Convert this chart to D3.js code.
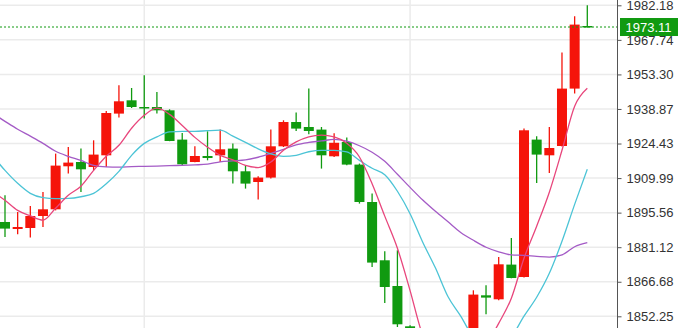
<!DOCTYPE html>
<html>
<head>
	<title>Candles</title>
	<script src="https://cdn.jsdelivr.net/npm/d3@7/dist/d3.min.js"></script>
<style type="text/css">
	body {
		margin: 0;
		background: white;
	}

	#chart {
		width: 678px;
		height: 328px;
		display: block;
	}

	.axisText {
		font-family: "Liberation Sans", Arial, sans-serif;
		font-size: 13px;
		fill: #333;
	}

	.grid line {
		stroke: #ebebeb;
		stroke-width: 1.5px;
	}

	.maLine {
		fill: none;
		stroke-width: 1.3px;
	}
</style>
</head>
<body>

<svg id='chart'></svg>

<script>

// candles, left to right (34-37 and part of 33/38 sit below the visible range)
var opens  = [1891.65, 1888.72, 1889.14, 1894.15, 1896.95, 1914.92, 1916.71, 1914.62, 1919.51, 1936.93,
              1942.49, 1939.69, 1939.69, 1938.31, 1926.07, 1916.71, 1919.22, 1919.51, 1922.31, 1912.83,
              1908.36, 1910.20, 1923.27, 1933.42, 1931.34, 1930.25, 1919.10, 1925.07, 1915.63, 1900.00,
              1875.65, 1864.91, 1848.07, 1836.0, 1822.0, 1830.0, 1826.0, 1838.0, 1861.02, 1859.35,
              1873.85, 1868.67, 1926.07, 1919.51, 1923.40, 1947.38, 1973.53];
var highs  = [1902.80, 1895.82, 1898.33, 1904.18, 1920.22, 1922.98, 1922.31, 1925.78, 1938.02, 1948.76,
              1947.63, 1952.94, 1945.96, 1938.73, 1928.83, 1923.27, 1929.54, 1930.25, 1924.40, 1915.34,
              1910.74, 1930.25, 1934.14, 1937.35, 1947.38, 1931.34, 1928.70, 1926.91, 1916.05, 1903.51,
              1879.41, 1879.82, 1848.5, 1840.0, 1835.0, 1838.0, 1843.0, 1863.11, 1865.20, 1877.02,
              1884.96, 1930.67, 1927.45, 1931.34, 1962.42, 1977.58, 1982.18];
var lows   = [1885.38, 1886.51, 1885.13, 1889.56, 1896.50, 1911.87, 1904.18, 1913.25, 1914.62, 1935.26,
              1939.27, 1934.85, 1936.93, 1925.40, 1915.21, 1916.59, 1917.42, 1916.71, 1907.69, 1905.60,
              1901.01, 1909.78, 1922.98, 1929.67, 1928.29, 1913.96, 1918.80, 1915.34, 1899.33, 1872.85,
              1857.81, 1847.78, 1832.0, 1818.0, 1815.0, 1820.0, 1822.0, 1836.0, 1853.09, 1858.93,
              1868.10, 1868.50, 1907.94, 1912.12, 1923.20, 1945.29, 1972.90];
var closes = [1888.89, 1889.56, 1894.15, 1896.95, 1915.21, 1916.46, 1913.66, 1919.81, 1937.18, 1942.07,
              1939.69, 1939.27, 1938.31, 1925.49, 1915.75, 1919.22, 1918.38, 1922.02, 1912.83, 1907.69,
              1910.20, 1923.27, 1933.42, 1930.67, 1929.67, 1919.51, 1924.74, 1915.63, 1900.00, 1874.69,
              1864.49, 1848.91, 1836.0, 1822.0, 1830.0, 1826.0, 1838.0, 1861.32, 1860.06, 1873.97,
              1868.25, 1929.96, 1919.81, 1922.56, 1947.38, 1974.12, 1973.11];

// moving averages; first value belongs to the bar just left of the view
var maFast = [1904.4,
              1900.7, 1896.5, 1894.2, 1892.4, 1897.4, 1902.8, 1906.6, 1913.2, 1919.1, 1923.7,
              1930.8, 1936.2, 1939.2, 1936.6, 1932.0, 1927.0, 1922.9, 1919.5, 1917.6, 1915.3,
              1914.4, 1916.7, 1921.6, 1925.1, 1927.2, 1927.9, 1927.2, 1924.5, 1918.8, 1907.6,
              1894.1, 1880.7, 1863.0, 1844.3, 1836.0, 1831.0, 1830.0, 1833.0, 1840.1, 1849.3,
              1859.8, 1876.5, 1889.9, 1904.1, 1921.6, 1940.0, 1947.5];
var maMid  = [1919.5,
              1913.2, 1907.8, 1903.6, 1901.8, 1901.4, 1901.5, 1902.2, 1903.6, 1907.6, 1912.8,
              1919.5, 1924.5, 1927.2, 1929.3, 1929.5, 1929.5, 1929.8, 1930.0, 1927.5, 1924.9,
              1922.2, 1920.1, 1919.1, 1919.5, 1921.0, 1921.6, 1921.6, 1920.9, 1917.4, 1914.1,
              1911.4, 1904.5, 1895.1, 1883.2, 1872.5, 1860.4, 1852.3, 1843.1, 1836.0, 1838.1,
              1843.5, 1852.3, 1860.2, 1870.2, 1883.6, 1899.0, 1913.7];
var maSlow = [1937.1,
              1933.7, 1930.4, 1927.5, 1924.5, 1921.2, 1919.1, 1917.4, 1915.3, 1914.7, 1914.6,
              1914.8, 1914.9, 1915.0, 1915.2, 1915.3, 1915.5, 1915.8, 1916.8, 1917.2, 1917.6,
              1918.7, 1920.3, 1922.0, 1923.9, 1924.9, 1925.5, 1926.2, 1925.4, 1923.5, 1920.8,
              1917.0, 1911.6, 1906.1, 1900.8, 1896.1, 1891.7, 1887.3, 1884.0, 1881.1, 1879.2,
              1877.9, 1877.7, 1877.3, 1877.0, 1877.9, 1881.3, 1883.0];

var tickValues = [1852.25, 1866.68, 1881.12, 1895.56, 1909.99, 1924.43, 1938.87, 1953.30, 1967.74, 1982.18];
var vGridAt = [11, 32];
var lastPrice = 1973.11;

var width = 678,
	height = 328,
	axisX = 617.5,
	bodyWidth = 10,
	upColor = '#f5140a',
	downColor = '#109a10';

var svg = d3.select('#chart');

var x = d3.scaleLinear().domain([0, closes.length - 1]).range([5, 587.3]);
var y = d3.scaleLinear().domain([1852.25, 1982.18]).range([316.3, 5.3]);

svg.append('clipPath')
	.attr('id', 'plotClip')
	.append('rect')
	.attr('x', 0).attr('y', 0)
	.attr('width', axisX).attr('height', height);

var grid = svg.append('g').classed('grid', true);

grid.selectAll('.hGrid')
	.data(tickValues)
	.enter()
	.append('line')
	.attr('x1', 0).attr('x2', axisX)
	.attr('y1', function(d) {return y(d)})
	.attr('y2', function(d) {return y(d)});

grid.selectAll('.vGrid')
	.data(vGridAt)
	.enter()
	.append('line')
	.attr('x1', function(d) {return x(d)})
	.attr('x2', function(d) {return x(d)})
	.attr('y1', 0).attr('y2', height);

var plot = svg.append('g').attr('clip-path', 'url(#plotClip)');

var candles = d3.range(closes.length).map(function(i) {
	return {i: i, o: opens[i], h: highs[i], l: lows[i], c: closes[i]};
});

var candle = plot.selectAll('.candle')
	.data(candles)
	.enter()
	.append('g')
	.classed('candle', true)
	.attr('fill', function(d) {return d.c >= d.o ? upColor : downColor})
	.attr('stroke', function(d) {return d.c >= d.o ? upColor : downColor});

candle.append('line')
	.attr('x1', function(d) {return x(d.i)})
	.attr('x2', function(d) {return x(d.i)})
	.attr('y1', function(d) {return y(d.h)})
	.attr('y2', function(d) {return y(d.l)})
	.attr('stroke-width', 1.3);

candle.append('rect')
	.attr('stroke', 'none')
	.attr('x', function(d) {return x(d.i) - bodyWidth / 2})
	.attr('width', bodyWidth)
	.attr('y', function(d) {return y(Math.max(d.o, d.c))})
	.attr('height', function(d) {return Math.max(1.5, Math.abs(y(d.o) - y(d.c)))});

var maLines = [
	{values: maSlow, color: '#a45bc6'},
	{values: maMid, color: '#4cc4d6'},
	{values: maFast, color: '#e8467c'}
];

// index 0 of each MA array sits one bar left of the first candle
var line = d3.line()
	.x(function(d, i) {return x(i - 1)})
	.y(function(d) {return y(d)})
	.curve(d3.curveMonotoneX);

plot.selectAll('.maLine')
	.data(maLines)
	.enter()
	.append('path')
	.classed('maLine', true)
	.attr('stroke', function(d) {return d.color})
	.attr('d', function(d) {return line(d.values)});

// last price dotted line
svg.append('line')
	.attr('x1', 0).attr('x2', axisX)
	.attr('y1', y(lastPrice)).attr('y2', y(lastPrice))
	.attr('stroke', downColor)
	.attr('stroke-width', 1)
	.attr('stroke-dasharray', '2,2');

// right axis
var axis = svg.append('g')
	.attr('transform', 'translate(' + axisX + ',0)')
	.call(d3.axisRight(y).tickValues(tickValues).tickSize(4).tickPadding(5).tickFormat(d3.format('.2f')));

axis.select('.domain').remove();
axis.append('line')
	.attr('x1', 0).attr('x2', 0)
	.attr('y1', 0).attr('y2', height)
	.attr('stroke', '#555');
axis.selectAll('.tick line').attr('stroke', '#555');
axis.selectAll('.tick text')
	.classed('axisText', true)
	.attr('font-family', null)
	.attr('font-size', null);

// last price tag
var tag = svg.append('g')
	.attr('transform', 'translate(' + (axisX + 2.5) + ',' + y(lastPrice) + ')');

tag.append('rect')
	.attr('x', 0).attr('y', -9)
	.attr('width', width - axisX).attr('height', 18)
	.attr('fill', downColor);

tag.append('text')
	.classed('axisText', true)
	.attr('x', 28.5)
	.attr('y', 0)
	.attr('dy', '0.35em')
	.attr('text-anchor', 'middle')
	.style('fill', 'white')
	.text(d3.format('.2f')(lastPrice));

</script>

</body>
</html>
